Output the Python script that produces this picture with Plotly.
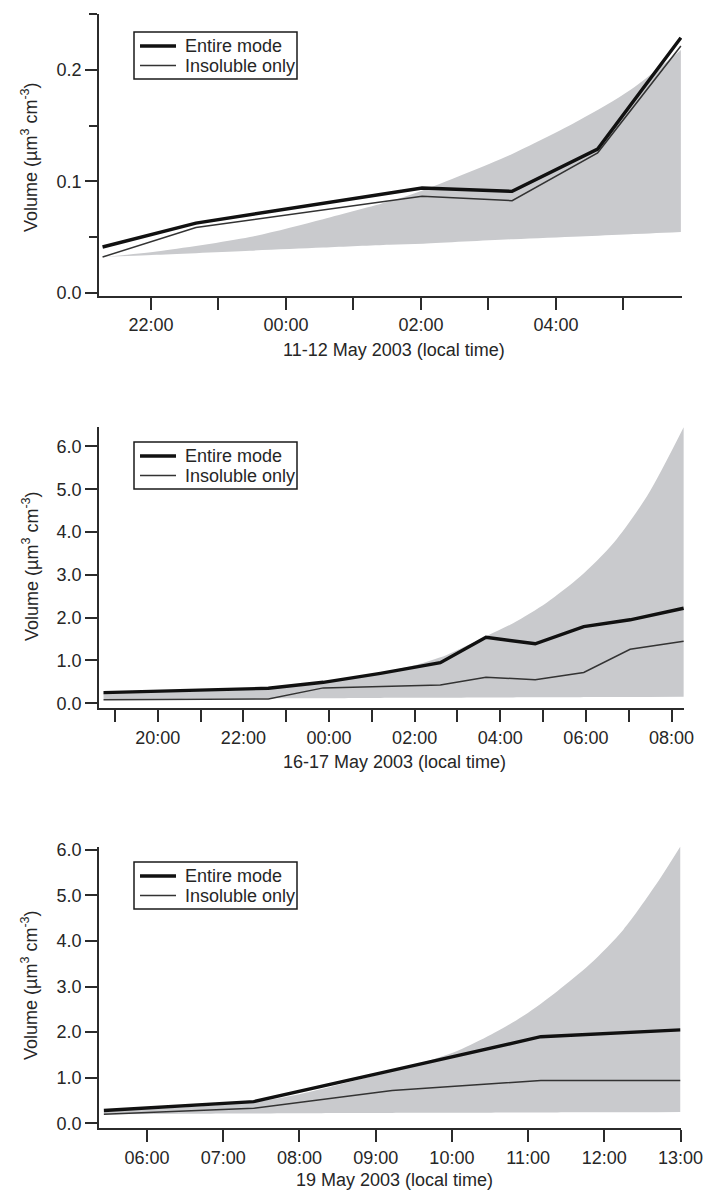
import plotly.graph_objects as go

W, H = 704, 1190

# ---- 11-12 May 2003 ----
may11_time = ["2003-05-11 21:17", "2003-05-11 22:40", "2003-05-12 02:01",
              "2003-05-12 03:21", "2003-05-12 04:37", "2003-05-12 05:51"]
may11_entire = [0.041, 0.0625, 0.094, 0.091, 0.129, 0.229]
may11_insoluble = [0.032, 0.0586, 0.0865, 0.0826, 0.1256, 0.2216]
may11_band_time = ["2003-05-11 21:17", "2003-05-11 22:05", "2003-05-11 23:28",
                   "2003-05-12 00:33", "2003-05-12 01:32", "2003-05-12 02:02",
                   "2003-05-12 03:22", "2003-05-12 04:21", "2003-05-12 05:06",
                   "2003-05-12 05:51"]
may11_band_low = [0.032, 0.034, 0.0377, 0.0405, 0.043, 0.044, 0.048, 0.0505, 0.0525, 0.0545]
may11_band_high = [0.032, 0.037, 0.050, 0.066, 0.082, 0.092, 0.125, 0.155, 0.182, 0.218]

# ---- 16-17 May 2003 ----
may16_time = ["2003-05-16 18:44", "2003-05-16 22:35", "2003-05-16 23:52",
              "2003-05-17 01:12", "2003-05-17 02:36", "2003-05-17 03:40",
              "2003-05-17 04:49", "2003-05-17 05:57", "2003-05-17 07:02",
              "2003-05-17 08:17"]
may16_entire = [0.25, 0.35, 0.49, 0.70, 0.95, 1.54, 1.39, 1.79, 1.95, 2.22]
may16_insoluble = [0.08, 0.10, 0.36, 0.39, 0.43, 0.61, 0.55, 0.72, 1.26, 1.45]
may16_band_time = ["2003-05-16 18:44", "2003-05-16 20:00", "2003-05-16 21:30",
                   "2003-05-16 22:35", "2003-05-16 23:52", "2003-05-17 01:12",
                   "2003-05-17 01:58", "2003-05-17 02:45", "2003-05-17 03:41",
                   "2003-05-17 04:18", "2003-05-17 05:05", "2003-05-17 05:52",
                   "2003-05-17 06:39", "2003-05-17 07:26", "2003-05-17 08:17"]
may16_band_low = [0.10, 0.105, 0.11, 0.115, 0.12, 0.125, 0.128, 0.13, 0.135,
                  0.138, 0.14, 0.143, 0.146, 0.148, 0.15]
may16_band_high = [0.25, 0.27, 0.30, 0.34, 0.47, 0.71, 0.88, 1.13, 1.57,
                   1.87, 2.35, 2.96, 3.75, 4.85, 6.45]

# ---- 19 May 2003 ----
may19_time = ["2003-05-19 05:26", "2003-05-19 07:24", "2003-05-19 09:13",
              "2003-05-19 11:10", "2003-05-19 13:00"]
may19_entire = [0.28, 0.475, 1.16, 1.90, 2.05]
may19_insoluble = [0.20, 0.33, 0.72, 0.94, 0.94]
may19_band_time = ["2003-05-19 05:26", "2003-05-19 06:30", "2003-05-19 07:24",
                   "2003-05-19 08:00", "2003-05-19 08:47", "2003-05-19 09:13",
                   "2003-05-19 09:39", "2003-05-19 10:05", "2003-05-19 10:31",
                   "2003-05-19 10:57", "2003-05-19 11:23", "2003-05-19 11:49",
                   "2003-05-19 12:15", "2003-05-19 12:41", "2003-05-19 13:00"]
may19_band_low = [0.20, 0.21, 0.215, 0.22, 0.225, 0.228, 0.23, 0.232, 0.234,
                  0.236, 0.238, 0.24, 0.242, 0.244, 0.245]
may19_band_high = [0.27, 0.35, 0.47, 0.64, 0.96, 1.14, 1.35, 1.60, 1.95,
                   2.37, 2.90, 3.50, 4.25, 5.25, 6.08]

x_titles = ["11-12 May 2003 (local time)", "16-17 May 2003 (local time)",
            "19 May 2003 (local time)"]
y_title = "Volume (µm<sup>3</sup> cm<sup>-3</sup>)"
legend_names = ["Entire mode", "Insoluble only"]

FONT = "Liberation Sans, Arial, Helvetica, sans-serif"
FS = 18
TXT = "#262626"
AX = "#2b2b2b"
BAND = "#c9cacd"
ENTIRE_COLOR, ENTIRE_W = "#111111", 3.4
INSOL_COLOR, INSOL_W = "#333333", 1.5
HOUR = 3600 * 1000


def fx(px):
    return px / W


def fy(px):
    return 1 - px / H


panels = [
    dict(time=may11_time, entire=may11_entire, insol=may11_insoluble,
         bt=may11_band_time, lo=may11_band_low, hi=may11_band_high,
         xr=["2003-05-11 21:13:50", "2003-05-12 05:52"], yr=[-0.003, 0.2503],
         xdom=[fx(99), fx(682)], ydom=[fy(296), fy(14)],
         tick0="2003-05-11 22:00", dtick=2 * HOUR, minor=HOUR,
         ydt=0.1, yminor=0.05, legend_top=32, ytitle_c=157, xtitle_c=350),
    dict(time=may16_time, entire=may16_entire, insol=may16_insoluble,
         bt=may16_band_time, lo=may16_band_low, hi=may16_band_high,
         xr=["2003-05-16 18:37:40", "2003-05-17 08:17:30"], yr=[-0.117, 6.46],
         xdom=[fx(99), fx(684)], ydom=[fy(708.3), fy(426.7)],
         tick0="2003-05-16 20:00", dtick=2 * HOUR, minor=HOUR,
         ydt=1, yminor=None, legend_top=442, ytitle_c=566, xtitle_c=762),
    dict(time=may19_time, entire=may19_entire, insol=may19_insoluble,
         bt=may19_band_time, lo=may19_band_low, hi=may19_band_high,
         xr=["2003-05-19 05:22:10", "2003-05-19 13:00"], yr=[-0.11, 6.07],
         xdom=[fx(99), fx(680.5)], ydom=[fy(1128.3), fy(846.7)],
         tick0="2003-05-19 06:00", dtick=HOUR, minor=None,
         ydt=1, yminor=None, legend_top=862, ytitle_c=985, xtitle_c=1180),
]

fig = go.Figure()
layout = dict(width=W, height=H, margin=dict(l=0, r=0, t=0, b=0, autoexpand=False),
              paper_bgcolor="white", plot_bgcolor="white", showlegend=False,
              font=dict(family=FONT, size=FS, color=TXT),
              annotations=[], shapes=[])

for i, p in enumerate(panels):
    n = "" if i == 0 else str(i + 1)
    xa, ya = "x" + n, "y" + n

    # shaded range between lower and upper estimates
    fig.add_trace(go.Scatter(x=p["bt"], y=p["lo"], xaxis=xa, yaxis=ya,
                             mode="lines",
                             line=dict(width=0, shape="spline", smoothing=0.8, color=BAND),
                             hoverinfo="skip"))
    fig.add_trace(go.Scatter(x=p["bt"], y=p["hi"], xaxis=xa, yaxis=ya,
                             mode="lines",
                             line=dict(width=0, shape="spline", smoothing=0.8, color=BAND),
                             fill="tonexty", fillcolor=BAND, hoverinfo="skip"))
    fig.add_trace(go.Scatter(x=p["time"], y=p["entire"], xaxis=xa, yaxis=ya,
                             mode="lines", name=legend_names[0],
                             line=dict(color=ENTIRE_COLOR, width=ENTIRE_W)))
    fig.add_trace(go.Scatter(x=p["time"], y=p["insol"], xaxis=xa, yaxis=ya,
                             mode="lines", name=legend_names[1],
                             line=dict(color=INSOL_COLOR, width=INSOL_W)))

    xaxis = dict(type="date", domain=p["xdom"], range=p["xr"], anchor=ya,
                 automargin=False, ticklabeloverflow="allow",
                 showline=True, linecolor=AX, linewidth=1.6,
                 ticks="outside", ticklen=12, tickwidth=1.5, tickcolor=AX,
                 tick0=p["tick0"], dtick=p["dtick"], tickformat="%H:%M",
                 tickfont=dict(family=FONT, size=FS, color=TXT),
                 showgrid=False, zeroline=False)
    if p["minor"]:
        xaxis["minor"] = dict(dtick=p["minor"], ticks="outside", ticklen=12,
                              tickwidth=1.5, tickcolor=AX, showgrid=False)
    yaxis = dict(domain=p["ydom"], range=p["yr"], anchor=xa,
                 automargin=False, ticklabeloverflow="allow",
                 showline=True, linecolor=AX, linewidth=1.6,
                 ticks="outside", ticklen=12, tickwidth=1.5, tickcolor=AX,
                 tick0=0, dtick=p["ydt"], tickformat=".1f",
                 tickfont=dict(family=FONT, size=FS, color=TXT),
                 showgrid=False, zeroline=False)
    if p["yminor"]:
        yaxis["minor"] = dict(dtick=p["yminor"], ticks="outside", ticklen=8,
                              tickwidth=1.5, tickcolor=AX, showgrid=False)
    layout["xaxis" + n] = xaxis
    layout["yaxis" + n] = yaxis

    # boxed key in the upper-left corner of each panel
    top = p["legend_top"]
    layout["shapes"].append(dict(type="rect", xref="paper", yref="paper",
                                 x0=fx(134), x1=fx(297), y0=fy(top + 47), y1=fy(top),
                                 line=dict(color="#1a1a1a", width=1.5),
                                 fillcolor="white", layer="above"))
    for k, (name, col, lw) in enumerate([(legend_names[0], ENTIRE_COLOR, ENTIRE_W),
                                         (legend_names[1], INSOL_COLOR, INSOL_W)]):
        yc = top + 14 + 19.5 * k
        layout["shapes"].append(dict(type="line", xref="paper", yref="paper",
                                     x0=fx(140), x1=fx(176), y0=fy(yc), y1=fy(yc),
                                     line=dict(color=col, width=lw), layer="above"))
        layout["annotations"].append(dict(
            text=name, x=fx(183), y=fy(yc), xref="paper", yref="paper",
            xanchor="left", yanchor="middle", showarrow=False,
            font=dict(family=FONT, size=FS, color=TXT)))

    layout["annotations"].append(dict(
        text=y_title, x=fx(30), y=fy(p["ytitle_c"]), xref="paper", yref="paper",
        xanchor="center", yanchor="middle", textangle=-90, showarrow=False,
        font=dict(family=FONT, size=FS, color=TXT)))
    layout["annotations"].append(dict(
        text=x_titles[i], x=fx(394), y=fy(p["xtitle_c"]), xref="paper", yref="paper",
        xanchor="center", yanchor="middle", showarrow=False,
        font=dict(family=FONT, size=FS, color=TXT)))

fig.update_layout(**layout)
fig.write_html("out.html")
